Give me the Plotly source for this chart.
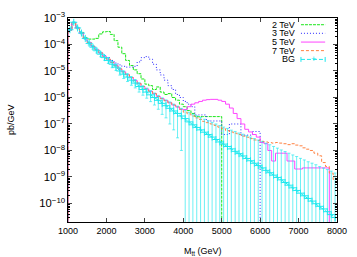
import plotly.graph_objects as go

# 100 GeV bins, left edges 1000 ... 7900
bin_lo = list(range(1000, 8000, 100))
x_ticks = [1000, 2000, 3000, 4000, 5000, 6000, 7000, 8000]

# signal histograms (pb/GeV), 0 = empty bin
sig_2tev = [3.5e-4, 6.8e-4, 4.4e-4, 2.9e-4, 1.8e-4, 1.6e-4, 1.6e-4, 1.7e-4, 2.5e-4, 3.0e-4,
            3.1e-4, 2.4e-4, 1.4e-4, 7.9e-5, 4.5e-5, 2.5e-5, 1.6e-5, 1.1e-5, 7.9e-6, 5.0e-6,
            3.2e-6, 2.8e-6, 2.0e-6, 2.5e-6, 1.6e-6, 1.3e-6, 1.4e-6, 1.0e-6, 7.9e-7, 5.6e-7,
            4.5e-7, 3.2e-7, 2.5e-7, 1.9e-7, 1.9e-7, 1.9e-7, 1.9e-7, 1.9e-7, 1.9e-7, 1.9e-7,
            0, 0, 0, 0, 0, 0, 0, 0, 0, 0,
            0, 0, 0, 0, 0, 0, 0, 0, 0, 0,
            0, 0, 0, 0, 0, 0, 0, 0, 0, 0]
sig_3tev = [3.5e-4, 6.8e-4, 4.2e-4, 2.7e-4, 1.7e-4, 1.2e-4, 8.5e-5, 6.3e-5, 4.8e-5, 3.8e-5,
            3.2e-5, 2.5e-5, 2.0e-5, 1.7e-5, 1.5e-5, 1.4e-5, 1.4e-5, 1.5e-5, 2.2e-5, 3.2e-5,
            3.5e-5, 2.8e-5, 1.8e-5, 1.1e-5, 7.1e-6, 4.5e-6, 2.8e-6, 2.0e-6, 1.3e-6, 1.0e-6,
            7.1e-7, 5.6e-7, 4.5e-7, 2.2e-7, 2.2e-7, 2.2e-7, 1.3e-7, 1.3e-7, 1.3e-7, 1.3e-7,
            4.0e-8, 4.0e-8, 1.0e-7, 1.0e-7, 1.0e-7, 3.8e-8, 3.8e-8, 3.8e-8, 5.2e-8, 5.2e-8,
            0, 0, 0, 0, 0, 0, 0, 0, 0, 0,
            0, 0, 0, 0, 0, 0, 0, 0, 0, 0]
sig_5tev = [3.5e-4, 6.8e-4, 4.2e-4, 2.7e-4, 1.7e-4, 1.2e-4, 8.5e-5, 6.3e-5, 4.8e-5, 3.6e-5,
            2.8e-5, 2.1e-5, 1.6e-5, 1.2e-5, 9.3e-6, 7.2e-6, 5.6e-6, 4.4e-6, 3.4e-6, 2.6e-6,
            2.1e-6, 1.7e-6, 1.4e-6, 1.1e-6, 9.1e-7, 7.6e-7, 6.3e-7, 5.2e-7, 4.4e-7, 3.6e-7,
            3.5e-7, 4.5e-7, 5.6e-7, 6.3e-7, 7.1e-7, 7.9e-7, 8.3e-7, 8.5e-7, 8.5e-7, 7.9e-7,
            7.1e-7, 5.6e-7, 4.0e-7, 2.5e-7, 1.6e-7, 1.0e-7, 6.3e-8, 5.0e-8, 4.0e-8, 3.2e-8,
            2.0e-8, 1.8e-8, 1.0e-8, 4.0e-9, 7.9e-9, 7.9e-9, 7.9e-9, 4.0e-9, 4.0e-9, 2.0e-9,
            2.0e-9, 2.2e-9, 2.2e-9, 2.2e-9, 2.2e-9, 2.2e-9, 2.2e-9, 2.2e-9, 0, 0]
sig_7tev = [3.5e-4, 6.8e-4, 4.2e-4, 2.7e-4, 1.7e-4, 1.2e-4, 8.5e-5, 6.3e-5, 4.8e-5, 3.6e-5,
            2.8e-5, 2.1e-5, 1.6e-5, 1.2e-5, 9.3e-6, 7.2e-6, 5.6e-6, 4.4e-6, 3.4e-6, 2.6e-6,
            2.1e-6, 1.7e-6, 1.4e-6, 1.1e-6, 9.1e-7, 7.6e-7, 6.3e-7, 5.2e-7, 4.4e-7, 3.6e-7,
            2.8e-7, 2.4e-7, 2.0e-7, 1.7e-7, 1.5e-7, 1.26e-7, 1.12e-7, 1.0e-7, 8.9e-8, 7.6e-8,
            6.6e-8, 5.6e-8, 5.0e-8, 4.5e-8, 4.0e-8, 3.5e-8, 3.2e-8, 2.8e-8, 2.5e-8, 2.4e-8,
            2.2e-8, 2.1e-8, 2.0e-8, 1.9e-8, 2.0e-8, 1.9e-8, 1.8e-8, 1.66e-8, 1.8e-8, 1.6e-8,
            1.5e-8, 1.26e-8, 1.12e-8, 1.0e-8, 7.9e-9, 6.3e-9, 3.5e-9, 2.5e-9, 1.4e-9, 8.0e-10]

# background central values and errors
bg_val = [3.6e-4, 6.9e-4, 4.2e-4, 2.7e-4, 1.7e-4, 1.1e-4, 7.9e-5, 5.8e-5, 4.3e-5, 3.2e-5,
          2.5e-5, 1.8e-5, 1.4e-5, 1.0e-5, 7.6e-6, 5.9e-6, 4.5e-6, 3.5e-6, 2.6e-6, 2.0e-6,
          1.6e-6, 1.26e-6, 1.0e-6, 7.8e-7, 6.0e-7, 4.9e-7, 3.9e-7, 3.1e-7, 2.5e-7, 2.0e-7,
          1.6e-7, 1.2e-7, 9.3e-8, 7.4e-8, 6.0e-8, 4.9e-8, 4.0e-8, 3.2e-8, 2.6e-8, 2.1e-8,
          1.74e-8, 1.41e-8, 1.15e-8, 9.3e-9, 7.6e-9, 6.2e-9, 5.0e-9, 4.1e-9, 3.3e-9, 2.7e-9,
          2.2e-9, 1.78e-9, 1.45e-9, 1.17e-9, 9.6e-10, 7.8e-10, 6.2e-10, 4.9e-10, 3.9e-10, 3.1e-10,
          2.45e-10, 1.95e-10, 1.55e-10, 1.23e-10, 9.8e-11, 7.8e-11, 6.2e-11, 4.9e-11, 3.8e-11, 2.95e-11]
bg_err = [1.7e-5, 3.2e-5, 3.0e-5, 1.9e-5, 1.6e-5, 1.4e-5, 1.2e-5, 1.0e-5, 8.6e-6, 6.5e-6,
          5.7e-6, 4.7e-6, 3.6e-6, 3.0e-6, 2.4e-6, 1.9e-6, 1.6e-6, 1.2e-6, 1.0e-6, 7.8e-7,
          6.6e-7, 5.6e-7, 4.8e-7, 4.2e-7, 3.7e-7, 3.2e-7, 2.9e-7, 2.5e-7, 2.2e-7, 1.9e-7,
          1.66e-7, 1.55e-7, 1.41e-7, 1.30e-7, 1.14e-7, 1.02e-7, 9.2e-8, 8.3e-8, 7.4e-8, 6.6e-8,
          5.9e-8, 5.4e-8, 4.7e-8, 4.3e-8, 3.8e-8, 3.5e-8, 3.1e-8, 2.8e-8, 2.5e-8, 2.2e-8,
          2.0e-8, 1.7e-8, 1.5e-8, 1.3e-8, 1.13e-8, 9.7e-9, 8.5e-9, 7.4e-9, 6.4e-9, 5.6e-9,
          4.8e-9, 4.2e-9, 3.6e-9, 3.2e-9, 2.8e-9, 2.4e-9, 2.1e-9, 1.86e-9, 1.62e-9, 1.38e-9]

FONT = "Liberation Sans, Arial, Helvetica, sans-serif"
FLOOR = 1e-14  # empty bins drawn down to the bottom (like gnuplot histeps)
X_MIN, X_MAX = 1000, 8000
BIN_W = 100

series = [
    ("2 TeV", sig_2tev, "#19e619", "3px,1px"),
    ("3 TeV", sig_3tev, "#2a2aff", "1px,2px"),
    ("5 TeV", sig_5tev, "#ff44ff", "solid"),
    ("7 TeV", sig_7tev, "#ff8040", "3px,2px"),
]
CYAN = "#1ee8ee"

fig = go.Figure()

step_x = [X_MIN] + bin_lo + [bin_lo[-1] + BIN_W]
for name, vals, color, dash in series:
    yy = [v if v > 0 else FLOOR for v in vals]
    step_y = [FLOOR] + yy + [yy[-1]]
    fig.add_trace(go.Scatter(
        x=step_x, y=step_y, mode="lines", name=name, showlegend=False,
        line=dict(color=color, width=1, dash=dash, shape="hv"),
    ))

centers = [b + BIN_W / 2 for b in bin_lo]
fig.add_trace(go.Scatter(
    x=centers, y=bg_val, mode="lines+markers", name="BG", showlegend=False,
    line=dict(color=CYAN, width=1, dash="4px,2px"),
    marker=dict(symbol="cross-thin", size=5, color=CYAN, line=dict(width=1, color=CYAN)),
    error_y=dict(type="data", array=bg_err, visible=True, color="rgba(30,232,238,0.65)",
                 thickness=1, width=1.5),
))

fig.update_xaxes(
    range=[X_MIN, X_MAX], tickvals=x_ticks, ticks="inside", ticklen=4,
    mirror="allticks", showline=True, linecolor="black", linewidth=1,
    showgrid=False, zeroline=False, tickfont=dict(family=FONT, size=9, color="black"),
)
fig.update_yaxes(
    type="log", range=[-10.699, -3], dtick=1, exponentformat="power",
    ticks="inside", ticklen=4, mirror="allticks", showline=True,
    linecolor="black", linewidth=1, showgrid=False, zeroline=False,
    tickfont=dict(family=FONT, size=9, color="black"),
    minor=dict(ticks="inside", ticklen=2, tickcolor="black", showgrid=False),
)

# legend (gnuplot style: text right-aligned, sample to the right)
leg_y = [0.967, 0.925, 0.882, 0.840, 0.797]
names = [s[0] for s in series] + ["BG"]
colors = [s[2] for s in series] + [CYAN]
dash_px = [s[3] for s in series] + ["4px,2px"]
annotations = []
shapes = []
for i, nm in enumerate(names):
    annotations.append(dict(x=0.850, y=leg_y[i], xref="paper", yref="paper", text=nm,
                            showarrow=False, xanchor="right", yanchor="middle",
                            font=dict(family=FONT, size=9, color="black")))
    shapes.append(dict(type="line", xref="paper", yref="paper", x0=0.866, x1=0.956,
                       y0=leg_y[i], y1=leg_y[i],
                       line=dict(color=colors[i], width=1, dash=dash_px[i])))
# BG legend error ticks and marker
for xx in (0.866, 0.956):
    shapes.append(dict(type="line", xref="paper", yref="paper", x0=xx, x1=xx,
                       y0=leg_y[4] - 0.012, y1=leg_y[4] + 0.012,
                       line=dict(color=CYAN, width=1)))
annotations.append(dict(x=0.911, y=leg_y[4], xref="paper", yref="paper", text="+",
                        showarrow=False, xanchor="center", yanchor="middle",
                        font=dict(family=FONT, size=9, color=CYAN)))

# axis titles
annotations.append(dict(x=-0.2117, y=0.5, xref="paper", yref="paper", text="pb/GeV",
                        textangle=-90, showarrow=False, xanchor="center", yanchor="middle",
                        font=dict(family=FONT, size=9, color="black")))
annotations.append(dict(x=0.5, y=-0.145, xref="paper", yref="paper",
                        text="M<sub>tt</sub> (GeV)", showarrow=False,
                        xanchor="center", yanchor="middle",
                        font=dict(family=FONT, size=9, color="black")))

fig.update_layout(
    width=357, height=257, margin=dict(l=68, r=15, t=10, b=35),
    paper_bgcolor="white", plot_bgcolor="white", showlegend=False,
    annotations=annotations, shapes=shapes,
    font=dict(family=FONT, size=9, color="black"),
)

fig.write_html("out.html", config={"displayModeBar": False},
               post_script="document.body.style.margin='0px';document.body.style.padding='0px';")
